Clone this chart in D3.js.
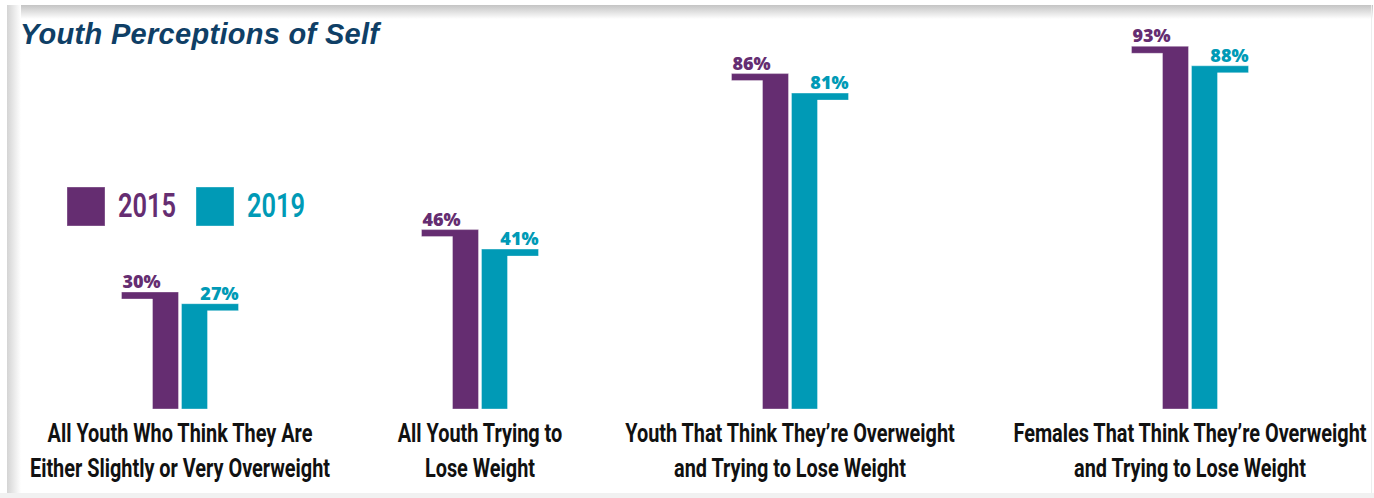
<!DOCTYPE html>
<html>
<head>
<meta charset="utf-8">
<script src="https://cdn.jsdelivr.net/npm/d3@7"></script>
<style>
  html, body { margin: 0; padding: 0; background: #fff; }
  svg { display: block; }
</style>
</head>
<body>
<svg id="chart" width="1374" height="498"></svg>
<script>
// Survey results: share of youth (%) by question, 2015 vs 2019
const categories = [
  "All Youth Who Think They Are|Either Slightly or Very Overweight",
  "All Youth Trying to|Lose Weight",
  "Youth That Think They\u2019re Overweight|and Trying to Lose Weight",
  "Females That Think They\u2019re Overweight|and Trying to Lose Weight"
];
const years = ["2015", "2019"];
const values2015 = [30, 46, 86, 93];
const values2019 = [27, 41, 81, 88];
const yearColors = ["#652d71", "#009ab6"];

const W = 1374, H = 498;
const svg = d3.select("#chart");
const defs = svg.append("defs");

// Card frame with soft drop shadow along the top and left edges
const gTop = defs.append("linearGradient").attr("id", "shTop")
  .attr("x1", 0).attr("y1", 0).attr("x2", 0).attr("y2", 1);
gTop.append("stop").attr("offset", 0).attr("stop-color", "#c4c4c4");
gTop.append("stop").attr("offset", 1).attr("stop-color", "#ffffff");
const gLeft = defs.append("linearGradient").attr("id", "shLeft")
  .attr("x1", 0).attr("y1", 0).attr("x2", 1).attr("y2", 0);
gLeft.append("stop").attr("offset", 0).attr("stop-color", "#d4d4d4");
gLeft.append("stop").attr("offset", 1).attr("stop-color", "#ffffff");

svg.append("rect").attr("width", W).attr("height", H).attr("fill", "#ffffff");
svg.append("rect").attr("x", 0).attr("y", 493).attr("width", W).attr("height", 5).attr("fill", "#f1f1f1");
svg.append("rect").attr("x", 7).attr("y", 5).attr("width", W - 8).attr("height", 14).attr("fill", "url(#shTop)");
svg.append("rect").attr("x", 7).attr("y", 5).attr("width", 14).attr("height", 488).attr("fill", "url(#shLeft)");
svg.append("rect").attr("x", 1371).attr("y", 5).attr("width", 1).attr("height", 488).attr("fill", "#ededed");

// Title
svg.append("text")
  .attr("x", 20).attr("y", 44)
  .attr("font-family", "Liberation Sans, Arial, sans-serif")
  .attr("font-weight", 700).attr("font-style", "italic")
  .attr("font-size", 29).attr("letter-spacing", 0.3).attr("fill", "#0f3f66")
  .text("Youth Perceptions of Self");

// Scales
const x = d3.scaleOrdinal().domain(categories).range([180, 480, 790, 1190]);
const xIn = d3.scaleBand().domain(years).range([-27.5, 27.5]).paddingInner(3 / 29);
const y = d3.scaleLinear().domain([0, 100]).range([409, 19]);
const color = d3.scaleOrdinal().domain(years).range(yearColors);

const capLen = 31, capH = 7;
const rows = [];
categories.forEach((c, i) => {
  rows.push({ cat: c, year: "2015", v: values2015[i] });
  rows.push({ cat: c, year: "2019", v: values2019[i] });
});

// Flag-shaped bars: vertical bar plus a cap reaching outward
function barPath(d) {
  const x0 = x(d.cat) + xIn(d.year), x1 = x0 + xIn.bandwidth();
  const top = y(d.v), base = y(0);
  if (d.year === years[0]) {
    const cl = x0 - capLen;
    return `M${cl},${top}H${x1}V${base}H${x0}V${top + capH}H${cl}Z`;
  }
  const cr = x1 + capLen;
  return `M${x0},${top}H${cr}V${top + capH}H${x1}V${base}H${x0}Z`;
}

svg.append("g").selectAll("path").data(rows).join("path")
  .attr("d", barPath)
  .attr("fill", d => color(d.year))
  .attr("stroke", "#ffffff").attr("stroke-opacity", 0.35).attr("stroke-width", 1);

// Value labels sitting on top of the caps
svg.append("g").selectAll("text").data(rows).join("text")
  .attr("x", d => {
    const x0 = x(d.cat) + xIn(d.year);
    return d.year === years[0] ? x0 - capLen + 1 : x0 + xIn.bandwidth() + capLen;
  })
  .attr("y", d => y(d.v) - 4)
  .attr("text-anchor", d => d.year === years[0] ? "start" : "end")
  .attr("font-family", "Open Sans, sans-serif")
  .attr("font-weight", 800).attr("font-size", 18)
  .attr("fill", d => color(d.year))
  .text(d => d.v + "%");

// Category labels (condensed bold, two lines each)
const condensed = 0.765;
const catG = svg.append("g").selectAll("g").data(categories).join("g")
  .attr("transform", d => `translate(${x(d)},0) scale(${condensed},1)`);
catG.selectAll("text").data(d => d.split("|")).join("text")
  .attr("x", 0)
  .attr("y", (d, i) => 442 + i * 35)
  .attr("text-anchor", "middle")
  .attr("font-family", "Roboto, sans-serif")
  .attr("font-weight", 700).attr("font-size", 26)
  .attr("fill", "#111111")
  .text(d => d);

// Legend
const legendX = d3.scaleOrdinal().domain(years).range([67, 196]);
const lg = svg.append("g").selectAll("g").data(years).join("g")
  .attr("transform", d => `translate(${legendX(d)},187)`);
lg.append("rect").attr("width", 38).attr("height", 39)
  .attr("fill", d => color(d))
  .attr("stroke", "#ffffff").attr("stroke-opacity", 0.35);
lg.append("text")
  .attr("transform", "translate(51,30) scale(0.77,1)")
  .attr("font-family", "Roboto, sans-serif")
  .attr("font-weight", 600).attr("font-size", 33)
  .attr("fill", d => color(d))
  .text(d => d);
</script>
</body>
</html>
